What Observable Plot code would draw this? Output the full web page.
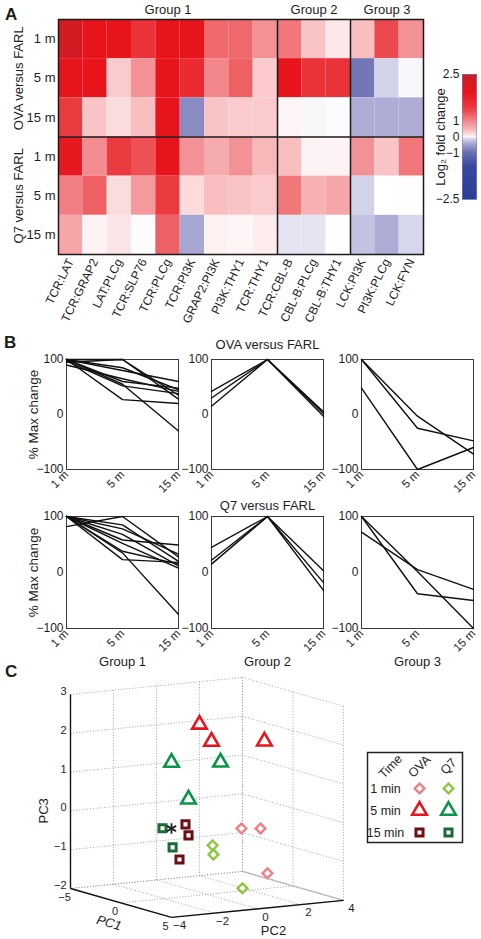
<!DOCTYPE html>
<html>
<head>
<meta charset="utf-8">
<script src="https://cdn.jsdelivr.net/npm/d3@7"></script>
<script src="https://cdn.jsdelivr.net/npm/@observablehq/plot@0.6"></script>
<style>
  body { margin: 0; background: #fff; font-family: "Liberation Sans", Arial, Helvetica, sans-serif; }
  #root { position: relative; width: 481px; height: 939px; overflow: hidden; background: #fff; color: #1d1d1d; }
  .letter { position: absolute; font-weight: bold; font-size: 17px; line-height: 17px; }
</style>
</head>
<body>
<div id="root"></div>
<script>
// ---------------- DATA ----------------
// Panel A: heat map (log2 fold change)
const pairs = ["TCR:LAT","TCR:GRAP2","LAT:PLCg","TCR:SLP76","TCR:PLCg","TCR:PI3K","GRAP2:PI3K","PI3K:THY1","TCR:THY1","TCR:CBL-B","CBL-B:PLCg","CBL-B:THY1","LCK:PI3K","PI3K:PLCg","LCK:FYN"];
const groups = ["Group 1","Group 2","Group 3"];
const groupSizes = [9, 3, 3];
const rowTimes = ["1 m","5 m","15 m"];
const conditions = ["OVA versus FARL","Q7 versus FARL"];
const ovaFold = [
  [2.3, 2.0, 2.0, 1.6, 2.0, 2.0, 1.2, 1.2, 0.9, 1.1, 0.5, 0.2, 0.55, 1.4, 0.9],
  [2.0, 2.0, 0.45, 0.9, 2.0, 1.7, 1.0, 1.25, 0.45, 2.0, 1.6, 1.6, -0.95, -0.3, -0.05],
  [1.5, 0.5, 0.3, 0.55, 2.0, -0.8, 0.5, 0.45, 0.45, 0.08, -0.05, -0.02, -0.55, -0.55, -0.55]
];
const q7Fold = [
  [1.95, 0.95, 1.5, 1.35, 2.0, 0.9, 0.7, 0.9, 0.6, 0.55, 0.1, 0.1, 0.9, 0.5, 1.1],
  [1.05, 1.25, 0.3, 0.85, 1.5, 0.3, 0.55, 0.5, 0.45, 1.1, 0.65, 0.75, -0.3, 0.0, 0.02],
  [0.75, 0.1, 0.22, -0.02, 1.25, -0.6, 0.12, 0.08, 0.15, -0.18, -0.18, 0.02, -0.4, -0.55, -0.27]
];
const colorTicks = [2.5, 1, 0, -1, -2.5];
const colorDomain = [-2.5, -1.5, -1, -0.5, 0, 0.5, 1, 1.5, 2, 2.5];
const colorRange = ["#2c3e97","#3b4a9f","#6c70b2","#b4b4da","#ffffff","#f9c4c6","#f2868a","#eb3a40","#e8141c","#c61f27"];

// Panel B: % max change at 1, 5, 15 min
const timePoints = ["1 m","5 m","15 m"];
const maxChangeTicks = [-100, 0, 100];
const ovaGroup1 = [[100,100,28],[95,100,35],[100,85,45],[100,80,60],[90,65,42],[100,60,48],[100,55,-30],[100,27,20],[97,52,38]];
const ovaGroup2 = [[42,100,5],[30,100,2],[15,100,-3]];
const ovaGroup3 = [[100,-3,-72],[100,-25,-48],[48,-100,-60]];
const q7Group1 = [[82,100,28],[100,85,20],[100,78,33],[100,68,12],[100,58,49],[100,52,8],[100,38,15],[100,23,18],[100,35,-75]];
const q7Group2 = [[45,100,3],[22,100,-18],[15,100,-32]];
const q7Group3 = [[72,5,-30],[100,-38,-50],[100,2,-100]];

// Panel C: PCA coordinates [PC1, PC2, PC3]
const pc1Ticks = [-5, 0, 5];
const pc2Ticks = [-4, -2, 0, 2, 4];
const pc3Ticks = [-2, -1, 0, 1, 2, 3];
const ova1min = [[-1,2.07,-0.49],[-2,3.43,-0.64],[0,2.81,-1.61]];
const q71min = [[0,0.26,-0.75],[0,0.30,-0.99],[2,0.71,-1.73]];
const ova5min = [[2,-1.29,2.60],[1,-0.26,2.03],[-2,3.61,1.60]];
const q75min = [[3,-3.06,1.79],[0,0.63,1.37],[2,-1.80,0.70]];
const ova15min = [[1,-1.47,-0.04],[1,-1.33,-0.33],[2,-2.22,-0.83]];
const q715min = [[2,-3.01,0.02],[2,-2.54,-0.50]];
const farlPoint = [[2,-2.59,-0.01]];
const legendTimes = ["1 min","5 min","15 min"];
const legendHeads = ["Time","OVA","Q7"];

// ---------------- HELPERS ----------------
const FONT = '"Liberation Sans", Arial, Helvetica, sans-serif';
const root = document.getElementById("root");
const baseStyle = {fontFamily: FONT, fontSize: "12px", background: "none", overflow: "visible", color: "#1d1d1d"};
const minus = d => String(d).replace("-", "\u2212");
function place(node, left, top) {
  node.style.position = "absolute";
  node.style.left = left + "px";
  node.style.top = top + "px";
  node.style.maxWidth = "none";
  root.appendChild(node);
}
function letter(t, left, top) {
  const d = document.createElement("div");
  d.className = "letter"; d.textContent = t;
  d.style.left = left + "px"; d.style.top = top + "px";
  root.appendChild(d);
}

// ---------------- PANEL A ----------------
const heatCells = [];
[ovaFold, q7Fold].forEach((m, c) => m.forEach((row, t) => row.forEach((v, j) =>
  heatCells.push({row: c * rowTimes.length + t, col: j, value: v}))));
const groupStarts = groupSizes.map((s, i) => d3.sum(groupSizes.slice(0, i)));
const groupEdges = groupStarts.slice(1);
const nRows = conditions.length * rowTimes.length;

const heat = Plot.plot({
  width: 430, height: 336,
  marginLeft: 58, marginRight: 7, marginTop: 19, marginBottom: 82,
  style: baseStyle,
  x: {domain: [0, pairs.length]},
  y: {domain: [0, nRows], reverse: true},
  color: {type: "linear", domain: colorDomain, range: colorRange, clamp: true},
  marks: [
    Plot.rect(heatCells, {x1: "col", x2: d => d.col + 1, y1: "row", y2: d => d.row + 1, fill: "value"}),
    Plot.ruleX(groupEdges, {stroke: "#1a1a1a", strokeWidth: 1.5}),
    Plot.ruleY([rowTimes.length], {stroke: "#1a1a1a", strokeWidth: 1.5}),
    Plot.frame({stroke: "#1a1a1a", strokeWidth: 1.5}),
    Plot.axisX({ticks: pairs.map((_, i) => i + 0.5), tickFormat: t => pairs[Math.floor(t)], tickSize: 0, tickPadding: 5, tickRotate: -64, fontSize: 12, label: null}),
    Plot.axisY({ticks: d3.range(nRows).map(i => i + 0.5), tickFormat: t => rowTimes[Math.floor(t) % rowTimes.length], tickSize: 0, tickPadding: 3, fontSize: 13, label: null}),
    Plot.text(conditions, {y: (d, i) => i * rowTimes.length + rowTimes.length / 2, frameAnchor: "left", dx: -40, rotate: -90, textAnchor: "middle", lineAnchor: "middle", fontSize: 13}),
    Plot.text(groups, {x: (d, i) => groupStarts[i] + groupSizes[i] / 2, frameAnchor: "top", dy: -10, lineAnchor: "middle", fontSize: 13})
  ]
});
place(heat, 0, 0);

// gradient samples spaced evenly along the bar (inverse of the pow-1.5 position scale)
const barSteps = d3.range(-1, 1, 1 / 150).map(s => 2.5 * Math.sign(s) * Math.pow(Math.abs(s), 1 / 1.5));
const colorbar = Plot.plot({
  width: 81, height: 150,
  marginLeft: 62, marginRight: 5, marginTop: 14, marginBottom: 11,
  style: baseStyle,
  x: {domain: [0, 1], axis: null},
  y: {type: "pow", exponent: 1.5, domain: [-2.5, 2.5]},
  color: {type: "linear", domain: colorDomain, range: colorRange, clamp: true},
  marks: [
    Plot.rect(barSteps, {x1: 0, x2: 1, y1: d => d, y2: (d, i) => i + 1 < barSteps.length ? barSteps[i + 1] : 2.5, fill: d => d, shapeRendering: "crispEdges", stroke: d => d, strokeWidth: 0.6}),
    Plot.frame({stroke: "#7f86bb", strokeWidth: 0.6}),
    Plot.axisY({ticks: colorTicks, tickFormat: minus, tickSize: 0, tickPadding: 3, fontSize: 12, label: null}),
    Plot.text(["Log\u2082 fold change"], {frameAnchor: "left", dx: -22, rotate: -90, textAnchor: "middle", lineAnchor: "middle", fontSize: 13})
  ]
});
place(colorbar, 400, 60);

// ---------------- PANEL B ----------------
function toLines(series) {
  return series.flatMap((vals, k) => vals.map((v, i) => ({id: k, t: timePoints[i], v})));
}
function linePanel(series, o) {
  const frameW = 112;
  const p = Plot.plot({
    width: o.marginLeft + frameW + 8, height: 19 + o.frameH + o.marginBottom,
    marginLeft: o.marginLeft, marginRight: 8, marginTop: 19, marginBottom: o.marginBottom,
    style: baseStyle,
    x: {type: "point", domain: timePoints, padding: 0},
    y: {domain: [-100, 100]},
    marks: [
      Plot.frame({stroke: "#3a3a3a", strokeWidth: 1}),
      Plot.line(toLines(series), {x: "t", y: "v", z: "id", stroke: "#111", strokeWidth: 1.4}),
      Plot.axisY({ticks: maxChangeTicks, tickFormat: minus, tickSize: 0, tickPadding: 3, fontSize: 12, label: null}),
      Plot.axisX({tickSize: 0, tickPadding: 3, tickRotate: -45, fontSize: 11.5, label: null}),
      o.yLabel ? Plot.text([o.yLabel], {frameAnchor: "left", dx: -33, rotate: -90, textAnchor: "middle", lineAnchor: "middle", fontSize: 13.5}) : null,
      o.title ? Plot.text([o.title], {frameAnchor: "top", dy: o.titleDy, lineAnchor: "middle", fontSize: 13}) : null,
      o.footer ? Plot.text([o.footer], {frameAnchor: "bottom", dy: 33, lineAnchor: "middle", fontSize: 13}) : null
    ]
  });
  place(p, o.frameLeft - o.marginLeft, o.top);
}
const frameLefts = [66, 211, 361];
[ovaGroup1, ovaGroup2, ovaGroup3].forEach((s, j) => linePanel(s, {
  frameLeft: frameLefts[j], marginLeft: j === 0 ? 66 : 40, top: 340, frameH: 110, marginBottom: 40,
  yLabel: j === 0 ? "% Max change" : null, title: j === 1 ? "OVA versus FARL" : null, titleDy: -15
}));
[q7Group1, q7Group2, q7Group3].forEach((s, j) => linePanel(s, {
  frameLeft: frameLefts[j], marginLeft: j === 0 ? 66 : 40, top: 497, frameH: 112, marginBottom: 45,
  yLabel: j === 0 ? "% Max change" : null, title: j === 1 ? "Q7 versus FARL" : null, titleDy: -11,
  footer: groups[j]
}));

// ---------------- PANEL C ----------------
const boxMin = [pc1Ticks[0], pc2Ticks[0], pc3Ticks[0]];
const boxMax = [pc1Ticks[pc1Ticks.length - 1], pc2Ticks[pc2Ticks.length - 1], pc3Ticks[pc3Ticks.length - 1]];
const viewU = [0.521, 0.887, 0];
const viewV = [-0.149, 0.088, 1];
function proj(p) {
  const n = p.map((v, k) => (v - boxMin[k]) / (boxMax[k] - boxMin[k]));
  return [d3.sum(n, (v, k) => v * viewU[k]), d3.sum(n, (v, k) => v * viewV[k])];
}
const px = p => proj(p)[0], py = p => proj(p)[1];
const [x0, x1, y0, y1] = [boxMin[0], boxMax[0], boxMin[1], boxMax[1]];
const [z0, z1] = [boxMin[2], boxMax[2]];
const grid = [];
pc3Ticks.forEach(z => grid.push([[x0, y0, z], [x0, y1, z]]));
pc2Ticks.forEach(y => grid.push([[x0, y, z0], [x0, y, z1]]));
pc3Ticks.forEach(z => grid.push([[x0, y1, z], [x1, y1, z]]));
pc1Ticks.forEach(x => grid.push([[x, y1, z0], [x, y1, z1]]));
pc1Ticks.forEach(x => grid.push([[x, y0, z0], [x, y1, z0]]));
pc2Ticks.forEach(y => grid.push([[x0, y, z0], [x1, y, z0]]));
const axesLines = [
  [[x0, y0, z0], [x0, y0, z1]],
  [[x0, y0, z0], [x1, y0, z0]],
  [[x1, y0, z0], [x1, y1, z0]]
];
const link = (data, opts) => Plot.link(data, {x1: d => px(d[0]), y1: d => py(d[0]), x2: d => px(d[1]), y2: d => py(d[1]), ...opts});
const seriesSpecs = [
  {data: ova1min, cond: "OVA", time: "1 min", symbol: "diamond2", r: 4.4, color: "#ef7f81", sw: 2.4},
  {data: q71min, cond: "Q7", time: "1 min", symbol: "diamond2", r: 4.4, color: "#8dc63f", sw: 2.4},
  {data: ova5min, cond: "OVA", time: "5 min", symbol: "triangle", r: 5.4, color: "#e8141c", sw: 2.6},
  {data: q75min, cond: "Q7", time: "5 min", symbol: "triangle", r: 5.4, color: "#0a9547", sw: 2.6},
  {data: ova15min, cond: "OVA", time: "15 min", symbol: "square", r: 4.0, color: "#6a1015", sw: 3},
  {data: q715min, cond: "Q7", time: "15 min", symbol: "square", r: 4.0, color: "#1b6b37", sw: 3}
];
const pca = Plot.plot({
  width: 360, height: 284, margin: 0,
  style: baseStyle,
  x: {domain: [0, 1.408], range: [70, 343], axis: null},
  y: {domain: [0, 1], range: [233, 39], axis: null},
  marks: [
    link(grid, {stroke: "#9c9c9c", strokeWidth: 0.9, strokeDasharray: "1,1.8"}),
    link([[[x0, y1, z0], [x1, y1, z0]]], {stroke: "#bdbdbd", strokeWidth: 1.3}),
    link(axesLines, {stroke: "#111", strokeWidth: 1.4}),
    Plot.text(pc3Ticks, {x: t => px([x0, y0, t]), y: t => py([x0, y0, t]), dx: -4, dy: -3, textAnchor: "end", text: minus, fontSize: 11}),
    Plot.text(pc1Ticks, {x: t => px([t, y0, z0]), y: t => py([t, y0, z0]), dx: -6, dy: 9, text: minus, fontSize: 11}),
    Plot.text(pc2Ticks, {x: t => px([x1, t, z0]), y: t => py([x1, t, z0]), dx: 8, dy: 8, text: minus, fontSize: 11.5}),
    Plot.text(["PC3"], {x: () => px([x0, y0, 0]), y: () => py([x0, y0, 0]), dx: -27, rotate: -90, fontSize: 13}),
    Plot.text(["PC1"], {x: () => px([0, y0, z0]), y: () => py([0, y0, z0]), dx: -12, dy: 20, rotate: 16, fontSize: 13, fontStyle: "italic"}),
    Plot.text(["PC2"], {x: () => px([x1, 0, z0]), y: () => py([x1, 0, z0]), dx: 16, dy: 22, fontSize: 13}),
    ...seriesSpecs.map(s => Plot.dot(s.data, {x: px, y: py, symbol: s.symbol, r: s.r, stroke: s.color, strokeWidth: s.sw, fill: "white"})),
    Plot.dot(farlPoint, {x: px, y: py, symbol: "asterisk", r: 5, stroke: "#222", strokeWidth: 1.8})
  ]
});
place(pca, 0, 655);

const legend = Plot.plot({
  width: 97, height: 92, margin: 1,
  style: baseStyle,
  x: {type: "point", domain: legendHeads, range: [24, 82], padding: 0, axis: null},
  y: {type: "point", domain: ["head", ...legendTimes], range: [14, 81], padding: 0, axis: null},
  marks: [
    Plot.frame({stroke: "#222", strokeWidth: 1.5}),
    Plot.text(legendHeads, {x: d => d, y: () => "head", rotate: -45, fontSize: 12.5}),
    Plot.text(legendTimes, {x: () => legendHeads[0], y: d => d, dx: -5, fontSize: 12.5}),
    ...seriesSpecs.map(s => Plot.dot([s], {x: d => d.cond, y: d => d.time, symbol: s.symbol, r: s.r, stroke: s.color, strokeWidth: s.sw, fill: "white"}))
  ]
});
place(legend, 366, 751);

letter("A", 5, 6);
letter("B", 4, 334);
letter("C", 5, 663);
</script>
</body>
</html>
